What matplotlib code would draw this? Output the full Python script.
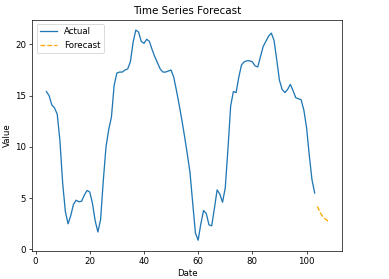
import numpy as np
import matplotlib
matplotlib.use("Agg")
import matplotlib.pyplot as plt

actual_x = list(range(4, 104))
actual_y = [
    15.4, 15.0, 14.1, 13.8, 13.2, 10.6, 6.5, 3.7, 2.5, 3.3,
    4.4, 4.8, 4.65, 4.7, 5.3, 5.75, 5.6, 4.5, 2.8, 1.7,
    2.9, 6.7, 10.0, 11.7, 12.9, 16.0, 17.2, 17.3, 17.3, 17.5,
    17.6, 18.3, 20.2, 21.4, 21.2, 20.3, 20.1, 20.5, 20.3, 19.5,
    18.8, 18.2, 17.6, 17.3, 17.3, 17.4, 17.5, 16.8, 15.5, 14.1,
    12.6, 11.0, 9.3, 7.5, 4.5, 1.6, 0.9, 2.5, 3.8, 3.5,
    2.4, 2.3, 4.0, 5.8, 5.4, 4.6, 6.0, 9.8, 14.0, 15.4,
    15.3, 16.8, 18.0, 18.3, 18.4, 18.4, 18.3, 17.9, 17.8, 18.8,
    19.8, 20.3, 20.8, 21.1, 20.4, 18.5, 16.5, 15.6, 15.3, 15.6,
    16.1, 15.5, 14.8, 14.7, 14.6, 13.6, 11.9, 9.2, 6.8, 5.5,
]

forecast_x = [104, 105, 106, 107, 108]
forecast_y = [4.2, 3.6, 3.2, 2.95, 2.75]


def main():
    dpi = 62
    fig = plt.figure(figsize=(389 / dpi, 279 / dpi), dpi=dpi)
    ax = fig.add_subplot(111)
    fig.subplots_adjust(left=0.083, right=0.880, top=0.930, bottom=0.1014)

    ax.plot(actual_x, actual_y, label="Actual")
    ax.plot(forecast_x, forecast_y, linestyle="--", color="orange", label="Forecast")

    ax.set_title("Time Series Forecast")
    ax.set_xlabel("Date")
    ax.set_ylabel("Value")
    ax.legend(loc="upper left")

    fig.savefig("out.png", dpi=dpi)


main()
